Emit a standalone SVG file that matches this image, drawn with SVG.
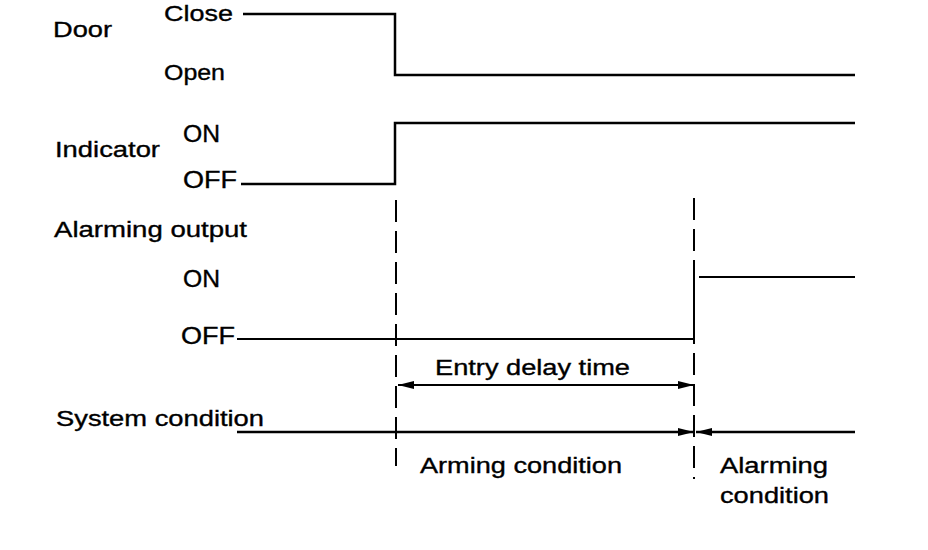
<svg xmlns="http://www.w3.org/2000/svg" width="928" height="550" viewBox="0 0 928 550">
<style>
text{font-family:"Liberation Sans",Arial,sans-serif;font-size:22px;fill:#000;stroke:#000;stroke-width:0.35}
text.lv{font-size:23px}
.sig{stroke:#000;stroke-width:2.5;fill:none}
.dash{stroke:#000;stroke-width:2;fill:none;stroke-dasharray:22 9}
.ln{stroke:#000;stroke-width:2;fill:none}
</style>
<defs>
<marker id="ah" viewBox="0 0 16 8" refX="16" refY="4" markerWidth="16" markerHeight="8" markerUnits="userSpaceOnUse" orient="auto-start-reverse">
<path d="M0,0 L16,4 L0,8 Z" fill="#000"/>
</marker>
</defs>
<g id="labels">
<text x="53" y="37" textLength="59" lengthAdjust="spacingAndGlyphs">Door</text>
<text x="164" y="21" textLength="69" lengthAdjust="spacingAndGlyphs">Close</text>
<text x="164" y="80" textLength="61" lengthAdjust="spacingAndGlyphs">Open</text>
<text x="55" y="157" textLength="105" lengthAdjust="spacingAndGlyphs">Indicator</text>
<text class="lv" x="183" y="142" textLength="37" lengthAdjust="spacingAndGlyphs">ON</text>
<text class="lv" x="183" y="188" textLength="54" lengthAdjust="spacingAndGlyphs">OFF</text>
<text x="54" y="237" textLength="193" lengthAdjust="spacingAndGlyphs">Alarming output</text>
<text class="lv" x="183" y="287" textLength="37" lengthAdjust="spacingAndGlyphs">ON</text>
<text class="lv" x="181" y="344" textLength="54" lengthAdjust="spacingAndGlyphs">OFF</text>
<text x="435" y="375" textLength="195" lengthAdjust="spacingAndGlyphs">Entry delay time</text>
<text x="56" y="426" textLength="208" lengthAdjust="spacingAndGlyphs">System condition</text>
<text x="420" y="473" textLength="202" lengthAdjust="spacingAndGlyphs">Arming condition</text>
<text x="720" y="473" textLength="108" lengthAdjust="spacingAndGlyphs">Alarming</text>
<text x="720" y="503" textLength="109" lengthAdjust="spacingAndGlyphs">condition</text>
</g>
<g id="connectors">
<polyline id="door" class="sig" points="243,14 395,14 395,75 855,75"/>
<polyline id="indicator" class="sig" points="241,184 395,184 395,123 855,123"/>
<polyline id="alarm-off" class="ln" points="237,339 694,339 694,277"/>
<line id="alarm-on" class="ln" x1="699" y1="277" x2="855" y2="277"/>
<line id="mark1" class="dash" x1="396" y1="200" x2="396" y2="466"/>
<line id="mark2" class="dash" x1="694" y1="198" x2="694" y2="479"/>
<line id="entry-delay" class="ln" x1="398" y1="385" x2="694" y2="385" marker-start="url(#ah)" marker-end="url(#ah)"/>
<line id="sys-left" class="sig" x1="237" y1="432" x2="694" y2="432" marker-end="url(#ah)"/>
<line id="sys-right" class="sig" x1="696" y1="432" x2="855" y2="432" marker-start="url(#ah)"/>
</g>
</svg>
